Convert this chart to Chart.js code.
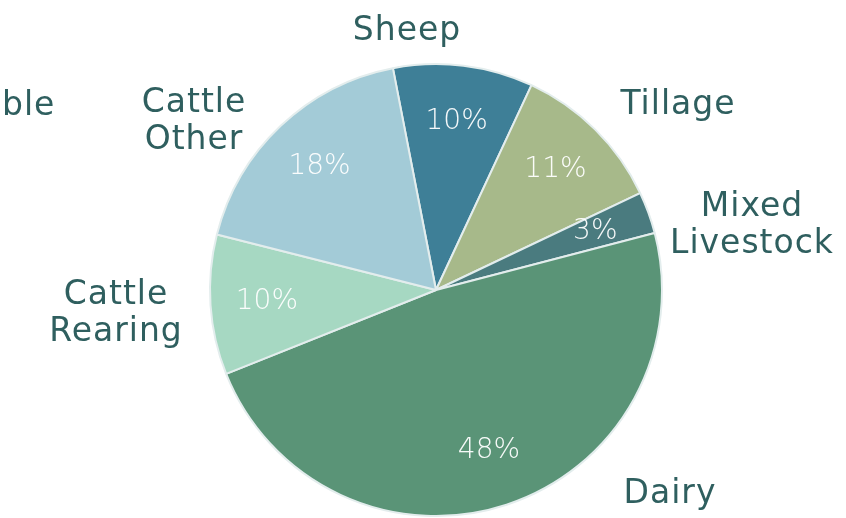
<!DOCTYPE html>
<html>
<head>
<meta charset="utf-8">
<script src="https://cdn.jsdelivr.net/npm/chart.js@4"></script>
<style>
  html, body { margin: 0; padding: 0; background: #fff; }
  #wrap { width: 846px; height: 518px; }
</style>
</head>
<body>
<div id="wrap"><canvas id="pie" width="846" height="518"></canvas></div>
<script>
const categories = ["Sheep", "Tillage", "Mixed\nLivestock", "Dairy", "Cattle\nRearing", "Cattle\nOther"];
const shares = [10, 11, 3, 48, 10, 18];
const colors = ["#3e7f97", "#a7b98a", "#4a7b7f", "#5a9477", "#a6d8c2", "#a3cbd7"];

// where each outer name sits, relative to the pie centre (px)
const nameOffsets = [[-29, -259], [242, -185], [316, -64], [234, 204], [-320, 24], [-242, -168]];

const labelPlugin = {
  id: "pieLabels",
  afterDatasetsDraw(chart) {
    const ctx = chart.ctx;
    const arcs = chart.getDatasetMeta(0).data;
    ctx.save();
    ctx.textAlign = "center";
    ctx.textBaseline = "middle";
    arcs.forEach((arc, i) => {
      const mid = (arc.startAngle + arc.endAngle) / 2;
      const r = arc.outerRadius * 0.75;
      ctx.fillStyle = "rgba(255,255,255,0.95)";
      ctx.font = "200 28px 'DejaVu Sans ExtraLight', 'DejaVu Sans'";
      ctx.letterSpacing = "0px";
      ctx.fillText(shares[i] + "%", arc.x + Math.cos(mid) * r, arc.y + Math.sin(mid) * r);

      ctx.fillStyle = "#2f5f5f";
      ctx.font = "400 33px 'DejaVu Sans'";
      ctx.letterSpacing = "1px";
      const lines = categories[i].split("\n");
      const [ox, oy] = nameOffsets[i];
      lines.forEach((ln, k) => {
        ctx.fillText(ln, arc.x + ox, arc.y + oy + (k - (lines.length - 1) / 2) * 37);
      });
    });
    // clipped label from a neighbouring panel
    ctx.textAlign = "left";
    ctx.fillText("ble", 2, 106);
    ctx.restore();
  }
};

new Chart(document.getElementById("pie"), {
  type: "pie",
  data: {
    labels: categories,
    datasets: [{
      data: shares,
      backgroundColor: colors,
      borderColor: "#e3eded",
      borderWidth: 2
    }]
  },
  options: {
    responsive: false,
    animation: false,
    rotation: -11,
    layout: { padding: { top: 63, bottom: 1, left: 209, right: 183 } },
    plugins: { legend: { display: false }, tooltip: { enabled: false } }
  },
  plugins: [labelPlugin]
});
</script>
</body>
</html>
